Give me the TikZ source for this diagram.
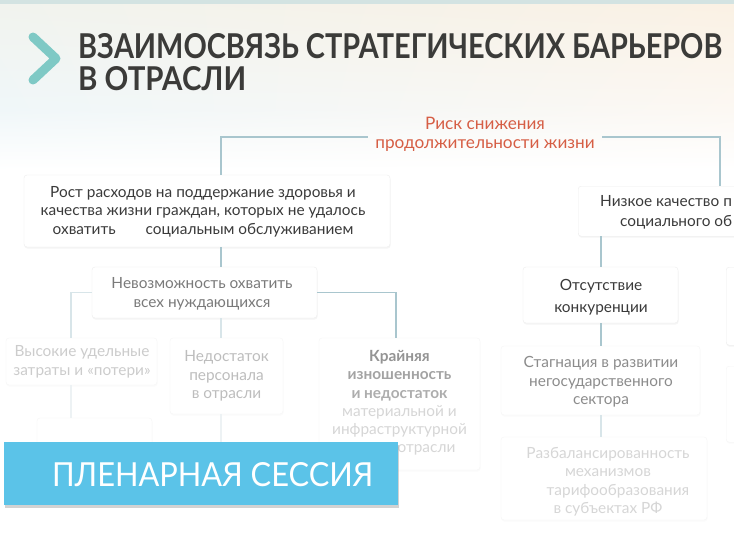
\documentclass[tikz,border=0pt]{standalone}
\usepackage{fontspec}
\setmainfont{Lato}
\usetikzlibrary{shadows,shadings}
\definecolor{strip}{HTML}{D3E3E2}
\definecolor{chev}{HTML}{7FC9C5}
\definecolor{titlec}{HTML}{3B3B39}
\definecolor{riskc}{HTML}{D65E45}
\definecolor{connc}{HTML}{A9C6CE}
\definecolor{connf}{HTML}{D8E5E9}
\definecolor{connff}{HTML}{EDF2F4}
\definecolor{bannerc}{HTML}{5BC3E8}
\definecolor{tdark}{HTML}{3A3A3A}
\definecolor{tmid}{HTML}{7A7A7A}
\definecolor{tgray}{HTML}{8C8C8C}
\definecolor{tlight}{HTML}{BDBDBD}
\definecolor{tfaint}{HTML}{CCCCCC}
\definecolor{tfainter}{HTML}{D6D6D6}
\definecolor{bgul}{HTML}{F1F3EE}
\definecolor{bgur}{HTML}{FAF1E4}
\definecolor{bgml}{HTML}{F0F7F9}
\definecolor{bgmr}{HTML}{FCF8F3}
\tikzset{
  box/.style={draw=black!7, fill=white, rounded corners=3pt,
    drop shadow={opacity=0.08, shadow xshift=0.5pt, shadow yshift=-1.5pt}},
  fbox/.style={draw=black!4, fill=white, rounded corners=3pt,
    drop shadow={opacity=0.03, shadow xshift=0.5pt, shadow yshift=-1.5pt}},
  conn/.style={draw=connc, line width=1.8pt},
  connfade/.style={draw=connf, line width=1.8pt},
  connfaint/.style={draw=connff, line width=1.8pt},
  txt/.style={align=center, font=\fontsize{15.4}{18.5}\selectfont},
}
\begin{document}
\begin{tikzpicture}[x=1pt,y=-1pt]
\useasboundingbox (0,0) rectangle (734,541);
\fill[white] (0,0) rectangle (734,541);
\shade[upper left=bgul, upper right=bgur, lower left=bgml, lower right=bgmr] (0,4) rectangle (734,110.5);
\shade[upper left=bgml, upper right=bgmr, lower left=white, lower right=white] (0,110) rectangle (734,170);
\fill[strip] (0,0) rectangle (734,4);
% chevron
\draw[chev, line width=9pt, line cap=round, line join=round] (33,37) -- (56,58.5) -- (33,80);
% title
\node[anchor=base west, inner sep=0pt, text=titlec] (t1) at (78,58)
  {\resizebox{644pt}{25pt}{\bfseries ВЗАИМОСВЯЗЬ СТРАТЕГИЧЕСКИХ БАРЬЕРОВ}};
\node[anchor=base west, inner sep=0pt, text=titlec] (t2) at (78,90)
  {\resizebox{168pt}{24pt}{\bfseries В ОТРАСЛИ}};
% red label
\node[txt, text=riskc, font=\fontsize{17.2}{19}\selectfont] (risk) at (485,134) {Риск снижения\\продолжительности жизни};
% coordinates for connector columns
\coordinate (cA) at (221,0);
\coordinate (cL) at (71,0);
\coordinate (cR) at (396,0);
\coordinate (cN) at (720,0);
\coordinate (cM) at (601,0);
\coordinate (endB) at (221,450);
% boxes
\node[box, minimum width=366pt, minimum height=72pt, inner sep=0pt] (b1) at (207,211) {};
\node[txt, text=tdark] (b1t) at (203,211.5) {Рост расходов на поддержание здоровья и\\качества жизни граждан, которых не удалось\\охватить\hspace{30pt}социальным обслуживанием};
\node[box, minimum width=225pt, minimum height=51pt, inner sep=0pt] (b2) at (204.5,292.5) {};
\node[txt, text=tmid] (b2t) at (202,294) {Невозможность охватить\\всех нуждающихся};
\node[fbox, minimum width=151pt, minimum height=47pt, inner sep=0pt] (b3a) at (81.5,361.5) {};
\node[txt, text=tfaint] (b3at) at (82,362) {Высокие удельные\\затраты и «потери»};
\node[fbox, minimum width=113pt, minimum height=76pt, inner sep=0pt] (b3b) at (226.5,376) {};
\node[txt, text=tlight] (b3bt) at (226.5,376) {Недостаток\\персонала\\в отрасли};
\node[fbox, minimum width=161pt, minimum height=132pt, inner sep=0pt] (b3c) at (399.5,404) {};
\node[txt, font=\fontsize{15.4}{18.2}\selectfont] (b3ct) at (399.5,403) {{\bfseries\color{black!42}Крайняя}\\{\bfseries\color{black!36}изношенность}\\{\bfseries\color{black!32}и недостаток}\\{\color{tfainter}материальной и}\\{\color{tfainter}инфраструктурной}\\{\color{tfainter}\hspace*{54pt}отрасли}};
\node[fbox, minimum width=115pt, minimum height=60pt, inner sep=0pt] (b5) at (94.5,448) {};
% right side
\node[box, anchor=north west, minimum width=170pt, minimum height=50pt, inner sep=0pt] (b4) at (578,186) {};
\node[anchor=base west, inner sep=0pt, text=tdark, font=\fontsize{15.4}{18.5}\selectfont] (b4a) at (600,206) {Низкое качество п};
\node[anchor=base west, inner sep=0pt, text=tdark, font=\fontsize{15.4}{18.5}\selectfont] (b4b) at (620,226) {социального об};
\node[box, minimum width=155pt, minimum height=56pt, inner sep=0pt] (b6) at (600.5,295) {};
\node[txt, text=tdark, font=\fontsize{15.4}{22}\selectfont] (b6t) at (601,297) {Отсутствие\\конкуренции};
\node[fbox, minimum width=199pt, minimum height=69pt, inner sep=0pt] (b7) at (600.5,380.5) {};
\node[txt, text=tgray] (b7t) at (601,382) {Стагнация в развитии\\негосударственного\\сектора};
\node[fbox, minimum width=206pt, minimum height=83pt, inner sep=0pt] (b8) at (604,478.5) {};
\node[txt, text=tfainter] (b8t) at (608,482) {Разбалансированность\\механизмов\\\hspace*{20pt}тарифообразования\\в субъектах РФ};
\node[box, anchor=north west, minimum width=40pt, minimum height=78pt, inner sep=0pt] (b9) at (726,267) {};
\node[fbox, anchor=north west, minimum width=40pt, minimum height=76pt, inner sep=0pt] (b10) at (726,366) {};
% connectors
\draw[conn] ([xshift=-4pt,yshift=-3pt]risk.west) -| (b1.north -| cA);
\draw[conn] ([xshift=4pt,yshift=-3pt]risk.east) -| (b4.north -| cN);
\draw[conn] (b1.south -| cA) -- (b2.north -| cA);
\draw[connfade] (b2.west) -| (b3a.north -| cL);
\draw[conn] (b2.east) -| (b3c.north -| cR);
\draw[connfade] (b2.south -| cA) -- (b3b.north -| cA);
\draw[connfaint] (b3a.south -| cL) -- (b5.north -| cL);
\draw[connfaint] (b3b.south -| cA) -- (endB);
\draw[conn] (b4.south -| cM) -- (b6.north -| cM);
\draw[conn] (b6.south -| cM) -- (b7.north -| cM);
\draw[connfade] (b7.south -| cM) -- (b8.north -| cM);
% banner
\node[fill=bannerc, minimum width=394pt, minimum height=63pt, inner sep=0pt,
  drop shadow={opacity=0.35, shadow xshift=1pt, shadow yshift=-3pt}] (ban) at (201,473.5) {};
\node[anchor=base west, inner sep=0pt, text=white] (bant) at (52,486)
  {\resizebox{321pt}{24pt}{ПЛЕНАРНАЯ СЕССИЯ}};
\end{tikzpicture}
\end{document}
